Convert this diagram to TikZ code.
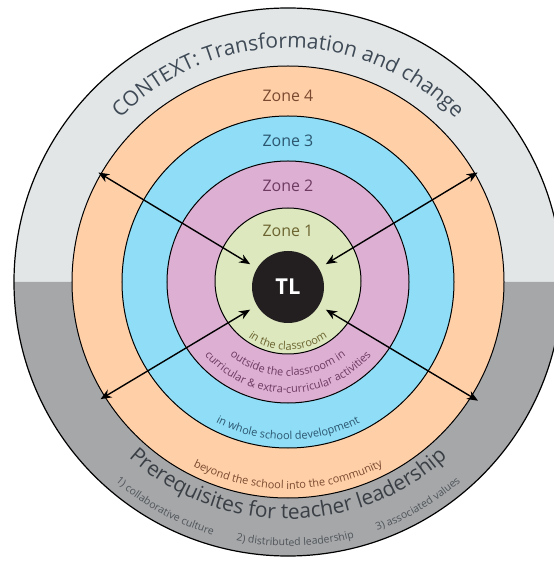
\documentclass[tikz,border=0pt]{standalone}
\usepackage{fontspec}
\setmainfont{Open Sans}
\usetikzlibrary{arrows.meta,decorations.text}

\definecolor{ctxlight}{HTML}{E3E6E7}
\definecolor{ctxdark}{HTML}{A5A7A9}
\definecolor{zfour}{HTML}{FFD0A8}
\definecolor{zthree}{HTML}{8FDDF6}
\definecolor{ztwo}{HTML}{DDAFD3}
\definecolor{zfirst}{HTML}{DDE8BE}
\definecolor{tlblack}{HTML}{231F20}
\definecolor{txctx}{HTML}{3E4A56}
\definecolor{txfour}{HTML}{7A4A30}
\definecolor{txthree}{HTML}{2C5670}
\definecolor{txtwo}{HTML}{6E3A62}
\definecolor{txfirst}{HTML}{6B6430}
\definecolor{txpre}{HTML}{3A3F45}
\definecolor{txitem}{HTML}{50555A}

\begin{document}
\begin{tikzpicture}[
            x=1bp,y=1bp,
            ring/.style={draw=black,line width=1bp},
            zonelab/.style={font=\fontsize{16}{18}\selectfont,text=#1},
            tlnode/.style={circle,fill=tlblack,minimum size=72bp,inner sep=0pt,
                           text=white,font=\fontsize{22}{24}\selectfont\bfseries},
            link/.style={{Stealth[length=11bp,width=9bp]}-{Stealth[length=11bp,width=9bp]},
                         line width=1.4bp,shorten >=8bp},
            curved/.style={decorate,decoration={text along path,text align=center,text={#1}}}
          ]
          \useasboundingbox (-288,-279) rectangle (266,282);

          %context disc
          \fill[ctxlight] (274,0) arc[start angle=0,end angle=180,radius=274] -- cycle;
          \fill[ctxdark] (-274,0) arc[start angle=180,end angle=360,radius=274] -- cycle;
          \draw[line width=1.2bp] (0,0) circle (274);

          %zones
          \filldraw[ring,fill=zfour] (0,0) circle (216);
          \filldraw[ring,fill=zthree] (0,0) circle (166);
          \filldraw[ring,fill=ztwo] (0,0) circle (121);
          \filldraw[ring,fill=zfirst] (0,1) circle (73);

          %teacher leader
          \node[tlnode] (tl) at (0,-5) {TL};

          %zone labels
          \node[zonelab=txfour] (z4) at (0,186) {Zone 4};
          \node[zonelab=txthree] (z3) at (0,141) {Zone 3};
          \node[zonelab=txtwo] (z2) at (0,96) {Zone 2};
          \node[zonelab=txfirst] (z1) at (0,51) {Zone 1};

          %curved labels
          \path[curved={|\fontsize{21}{24}\selectfont\color{txctx}|CONTEXT: Transformation and change}]
            (180:234) arc[start angle=180,end angle=0,radius=234];
          \path[curved={|\fontsize{11}{13}\selectfont\color{txfirst}|in the classroom}]
            (180:68) arc[start angle=180,end angle=360,radius=68];
          \path[curved={|\fontsize{11}{13}\selectfont\color{txtwo}|outside the classroom in}]
            (180:94) arc[start angle=180,end angle=360,radius=94];
          \path[curved={|\fontsize{11}{13}\selectfont\color{txtwo}|curricular {\&} extra-curricular activities}]
            (180:111) arc[start angle=180,end angle=360,radius=111];
          \path[curved={|\fontsize{11}{13}\selectfont\color{txthree}|in whole school development}]
            (180:158) arc[start angle=180,end angle=360,radius=158];
          \path[curved={|\fontsize{11}{13}\selectfont\color{txfour}|beyond the school into the community}]
            (180:207) arc[start angle=180,end angle=360,radius=207];
          \path[curved={|\fontsize{21}{25}\selectfont\color{txpre}|Prerequisites for teacher leadership}]
            (180:237) arc[start angle=180,end angle=360,radius=237];
          \path[curved={|\fontsize{10.5}{12}\selectfont\color{txitem}|1) collaborative culture{\hspace{24bp}}2) distributed leadership{\hspace{24bp}}3) associated values}]
            (180:264) arc[start angle=180,end angle=360,radius=264];

          %arrows
          \coordinate (nw) at (150:219);
          \coordinate (ne) at (30:219);
          \coordinate (sw) at (212:221);
          \coordinate (se) at (328:224);
          \draw[link] (nw) -- (tl);
          \draw[link] (ne) -- (tl);
          \draw[link] (sw) -- (tl);
          \draw[link] (se) -- (tl);

      \end{tikzpicture}
\end{document}
